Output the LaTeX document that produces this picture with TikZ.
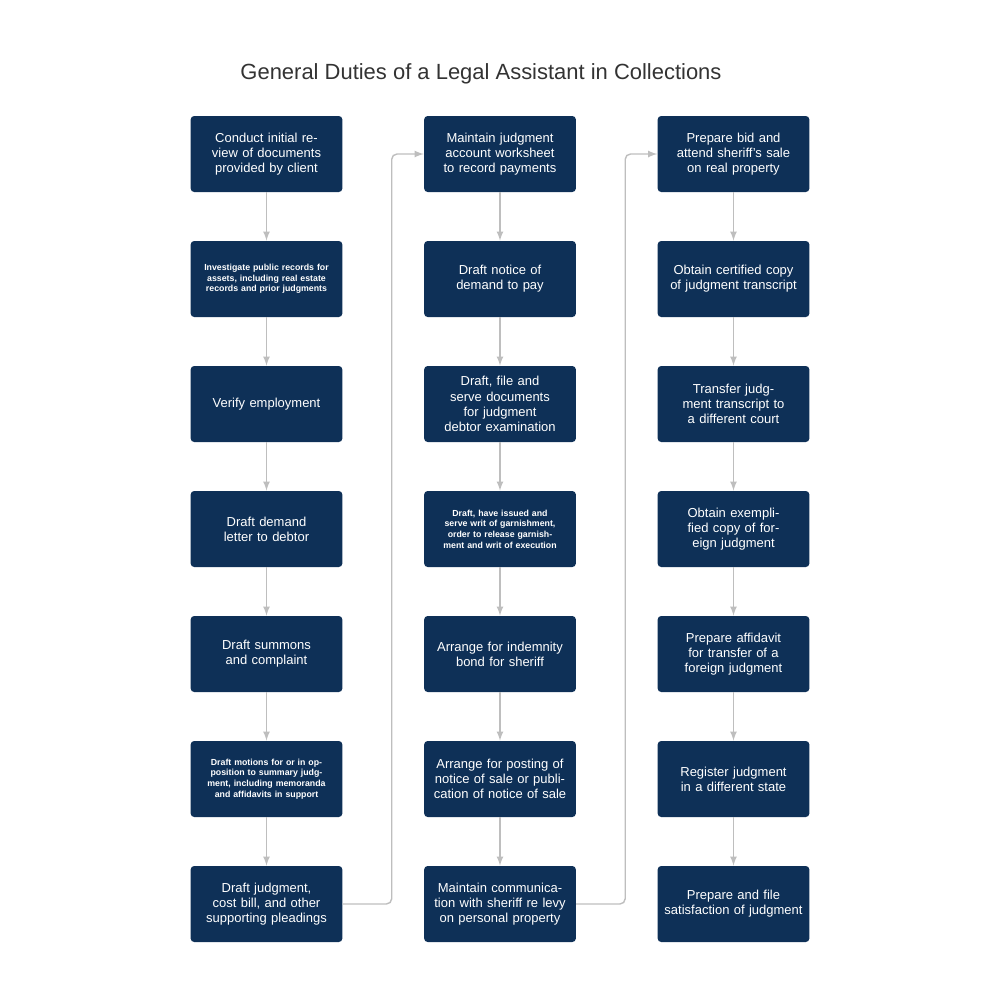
\documentclass[tikz,border=0pt]{standalone}
\usepackage{fontspec}
\setmainfont{Liberation Sans}
\usetikzlibrary{positioning}
\definecolor{boxblue}{RGB}{14,48,87}
\definecolor{linegray}{RGB}{190,190,190}
\definecolor{titlegray}{RGB}{51,51,51}
\tikzset{
  duty/.style={draw=none,fill=boxblue,rounded corners=2pt,text=white,minimum width=3.02cm,
    minimum height=1.52cm,text width=2.8cm,align=center,font=\fontsize{7.4}{8.6}\selectfont},
  smallduty/.style={duty,font=\bfseries\fontsize{5}{6.1}\selectfont},
  flow/.style={draw=linegray,thick,-latex,rounded corners=3pt}
}
\begin{document}
\begin{tikzpicture}
\useasboundingbox (0,0) rectangle (20,-20);
\node[text=titlegray,font=\fontsize{12.5}{14}\selectfont] (title) at (9.62,-1.48) {General Duties of a Legal Assistant in Collections};

% first column
\node[duty] (a1) at (5.33,-3.08) {Conduct initial review of documents provided by client};
\node[smallduty] (a2) at (5.33,-5.58) {Investigate public records for assets, including real estate records and prior judgments};
\node[duty] (a3) at (5.33,-8.08) {Verify employment};
\node[duty] (a4) at (5.33,-10.58) {Draft demand letter to debtor};
\node[duty] (a5) at (5.33,-13.08) {Draft summons and complaint};
\node[smallduty] (a6) at (5.33,-15.58) {Draft motions for or in opposition to summary judgment, including memoranda and affidavits in support};
\node[duty] (a7) at (5.33,-18.08) {Draft judgment, cost bill, and other supporting pleadings};

% second column
\node[duty] (b1) at (10,-3.08) {Maintain judgment account worksheet to record payments};
\node[duty] (b2) at (10,-5.58) {Draft notice of demand to pay};
\node[duty] (b3) at (10,-8.08) {Draft, file and serve documents for judgment debtor examination};
\node[smallduty] (b4) at (10,-10.58) {Draft, have issued and serve writ of garnishment, order to release garnishment and writ of execution};
\node[duty] (b5) at (10,-13.08) {Arrange for indemnity bond for sheriff};
\node[duty] (b6) at (10,-15.58) {Arrange for posting of notice of sale or publication of notice of sale};
\node[duty] (b7) at (10,-18.08) {Maintain communication with sheriff re levy on personal property};

% third column
\node[duty] (c1) at (14.67,-3.08) {Prepare bid and attend sheriff's sale on real property};
\node[duty] (c2) at (14.67,-5.58) {Obtain certified copy of judgment transcript};
\node[duty] (c3) at (14.67,-8.08) {Transfer judgment transcript to a different court};
\node[duty] (c4) at (14.67,-10.58) {Obtain exemplified copy of foreign judgment};
\node[duty] (c5) at (14.67,-13.08) {Prepare affidavit for transfer of a foreign judgment};
\node[duty] (c6) at (14.67,-15.58) {Register judgment in a different state};
\node[duty] (c7) at (14.67,-18.08) {Prepare and file satisfaction of judgment};

\foreach \col in {a,b,c}{
  \foreach \i [evaluate=\i as \j using int(\i+1)] in {1,...,6}{
    \draw[flow] (\col\i) -- (\col\j);
  }
}
\draw[flow] (a7.east) -- ++(0.98,0) |- (b1.west);
\draw[flow] (b7.east) -- ++(0.98,0) |- (c1.west);
\end{tikzpicture}
\end{document}
